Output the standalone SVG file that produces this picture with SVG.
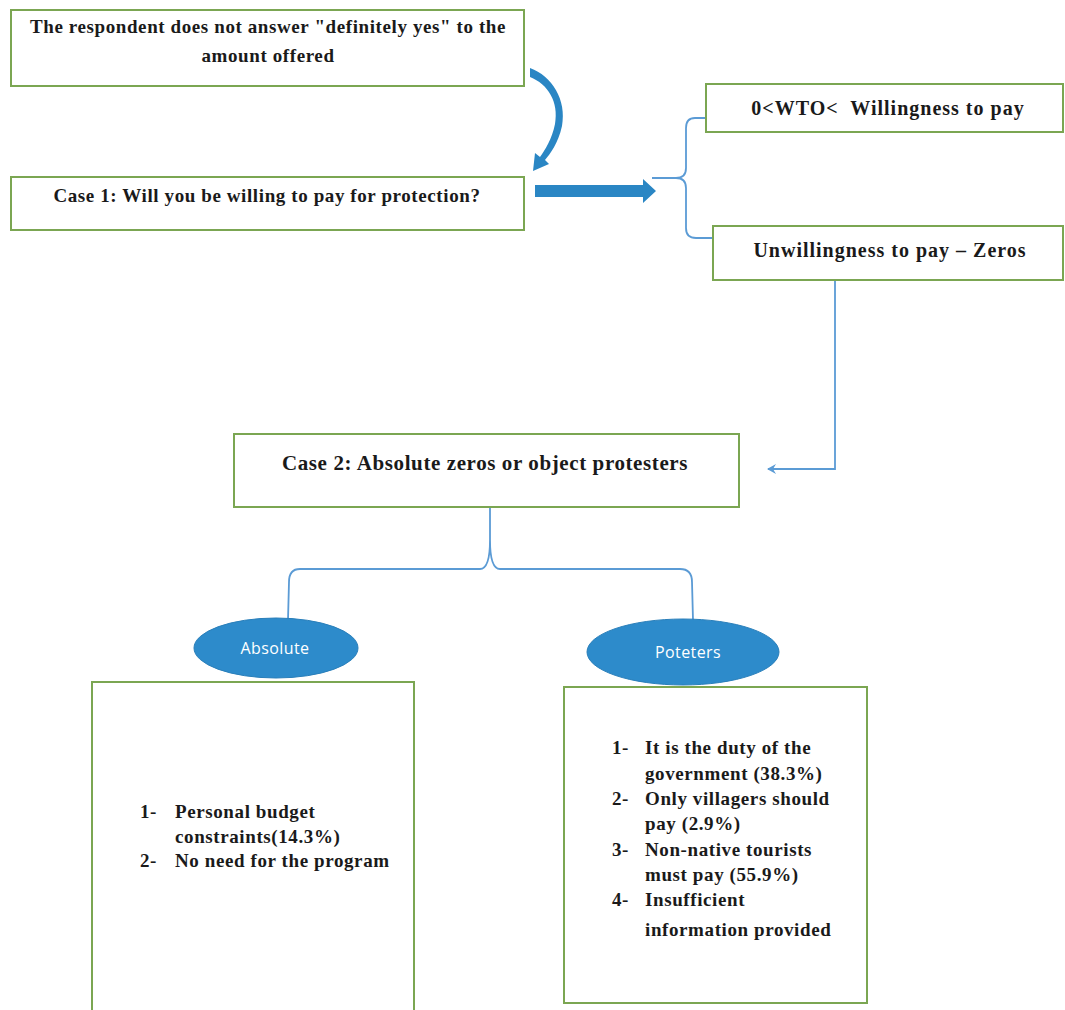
<svg xmlns="http://www.w3.org/2000/svg" width="1065" height="1010" viewBox="0 0 1065 1010">
<style>
.box{fill:#fff;stroke:#7BA652;stroke-width:2}
.t{font-family:"Liberation Serif","Times New Roman",serif;font-weight:bold;font-size:19px;letter-spacing:0.6px;fill:#1a1a1a}
.big{font-size:21px}
.mid{font-size:20px;letter-spacing:1px}
.c{text-anchor:middle}
.ell{fill:#2D8BCB;stroke:#2A7FBA;stroke-width:1}
.et{font-family:"Open Sans","Liberation Sans",sans-serif;font-size:16px;letter-spacing:0.4px;fill:#fff;text-anchor:middle}
.ln{fill:none;stroke:#5B9BD5;stroke-width:1.8}
.thick{fill:#2A86C4}
</style>
<defs>
<marker id="ah" markerWidth="10" markerHeight="10" refX="8" refY="5" orient="auto" markerUnits="userSpaceOnUse">
<path d="M0,0 L9,5 L0,10 L3,5 Z" fill="#5B9BD5"/>
</marker>
</defs>
<rect width="1065" height="1010" fill="#fff"/>
<g id="connectors">
<path class="thick" d="M530,68 C552,76 567,100 562,126 C558,144 550,154 545,160 L549,164 L533,171 L535,153 L540,157 C545,150 552,139 555,124 C559,102 548,84 530,77 Z"/>
<path class="thick" d="M535,185 L643,185 L643,179 L656,191 L643,203 L643,197 L535,197 Z"/>
<path class="ln" d="M712,118 L695,118 Q686,118 686,128 L686,168 Q686,178 676,178 L652,178 M676,178 Q686,178 686,188 L686,228 Q686,238 696,238 L713,238"/>
<path class="ln" d="M908,279 L835,279 L835,469 L768,469" marker-end="url(#ah)"/>
<path class="ln" d="M490,495 L490,540 Q490,569 480,569 L300,569 Q289,569 289,582 L288,620 M490,540 Q490,569 500,569 L680,569 Q692,569 692,582 L693,620"/>
</g>
<g id="n1">
<rect class="box" x="11" y="10" width="513" height="76"/>
<text class="t c" x="268" y="33">The respondent does not answer "definitely yes" to the</text>
<text class="t c" x="268" y="62">amount offered</text>
</g>
<g id="n2">
<rect class="box" x="11" y="177" width="513" height="53"/>
<text class="t c" x="267" y="202">Case 1: Will you be willing to pay for protection?</text>
</g>
<g id="n3">
<rect class="box" x="706" y="84" width="357" height="48"/>
<text class="t mid c" x="888" y="115" xml:space="preserve">0&lt;WTO&lt;  Willingness to pay</text>
</g>
<g id="n4">
<rect class="box" x="713" y="226" width="350" height="54"/>
<text class="t mid c" x="890" y="257">Unwillingness to pay – Zeros</text>
</g>
<g id="n5">
<rect class="box" x="234" y="434" width="505" height="73"/>
<text class="t big c" x="485" y="470">Case 2: Absolute zeros or object protesters</text>
</g>
<g id="n6">
<ellipse class="ell" cx="276" cy="648" rx="82" ry="30"/>
<text class="et" x="275" y="654">Absolute</text>
</g>
<g id="n7">
<ellipse class="ell" cx="683" cy="652" rx="96" ry="33"/>
<text class="et" x="688" y="658">Poteters</text>
</g>
<g id="n8">
<rect class="box" x="92" y="682" width="322" height="340"/>
<text class="t" x="140" y="818">1-</text>
<text class="t" x="175" y="818">Personal budget</text>
<text class="t" x="175" y="843">constraints(14.3%)</text>
<text class="t" x="140" y="867">2-</text>
<text class="t" x="175" y="867">No need for the program</text>
</g>
<g id="n9">
<rect class="box" x="564" y="687" width="303" height="316"/>
<text class="t" x="612" y="754">1-</text>
<text class="t" x="645" y="754">It is the duty of the</text>
<text class="t" x="645" y="780">government (38.3%)</text>
<text class="t" x="612" y="805">2-</text>
<text class="t" x="645" y="805">Only villagers should</text>
<text class="t" x="645" y="830">pay (2.9%)</text>
<text class="t" x="612" y="856">3-</text>
<text class="t" x="645" y="856">Non-native tourists</text>
<text class="t" x="645" y="881">must pay (55.9%)</text>
<text class="t" x="612" y="906">4-</text>
<text class="t" x="645" y="906">Insufficient</text>
<text class="t" x="645" y="936">information provided</text>
</g>
</svg>
